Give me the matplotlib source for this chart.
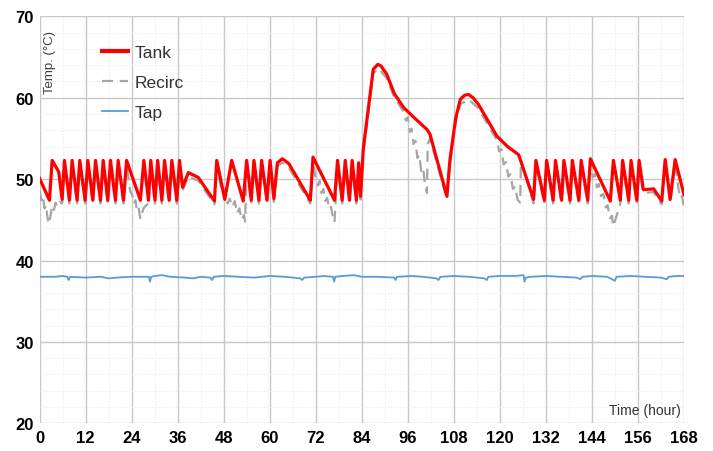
#!/usr/bin/env python3
"""Tank / recirculation / tap temperatures over one week (168 h)."""

import matplotlib

matplotlib.use("Agg")
import matplotlib.pyplot as plt
from matplotlib.ticker import MultipleLocator

plt.rcParams["font.family"] = ["Liberation Sans", "DejaVu Sans"]

# tank temperature, vertices (hour, degC)
tank_t = [
    0.0, 2.6, 3.3, 5.0, 5.9, 6.5, 7.8, 8.5, 9.8, 10.5, 11.9, 12.6, 13.9, 14.6,
    15.9, 16.6, 17.8, 18.5, 19.8, 20.5, 21.9, 22.7, 26.3, 27.2, 28.4, 29.0,
    30.1, 30.8, 31.9, 32.6, 33.8, 34.5, 35.8, 36.5, 37.3, 38.8, 41.4, 45.6,
    46.2, 48.3, 50.1, 53.1, 54.0, 55.2, 55.9, 57.2, 57.9, 59.3, 60.1, 61.1,
    62.0, 63.3, 65.0, 70.6, 71.3, 76.9, 77.7, 78.9, 79.7, 80.8, 81.5, 82.6,
    83.2, 83.7, 84.4, 87.0, 88.2, 89.0, 90.5, 92.5, 94.9, 98.0, 101.0, 101.8,
    106.2, 107.0, 108.5, 109.7, 110.8, 111.8, 113.0, 114.4, 116.5, 119.2,
    122.0, 124.9, 128.8, 129.4, 131.6, 132.2, 133.9, 134.5, 136.1, 136.7,
    138.3, 138.9, 140.6, 141.2, 142.9, 143.6, 148.8, 149.6, 151.4, 152.0,
    153.6, 154.2, 155.7, 156.3, 157.4, 160.1, 162.2, 163.1, 164.4, 165.7, 168.0,
]
tank_T = [
    50.1, 47.4, 52.3, 50.9, 47.5, 52.3, 47.4, 52.3, 47.4, 52.3, 47.4, 52.3, 47.4, 52.3,
    47.4, 52.3, 47.4, 52.3, 47.4, 52.3, 47.4, 52.3, 47.4, 52.3, 47.4, 52.3,
    47.4, 52.3, 47.4, 52.3, 47.4, 52.3, 47.4, 52.3, 49.0, 50.8, 50.2, 47.3,
    52.3, 47.5, 52.3, 47.3, 52.3, 47.4, 52.3, 47.4, 52.3, 47.4, 52.3, 47.6,
    52.0, 52.5, 51.9, 47.4, 52.7, 47.4, 52.3, 47.4, 52.3, 47.4, 52.3, 47.4,
    52.0, 47.9, 53.7, 63.5, 64.1, 63.9, 62.9, 60.5, 58.8, 57.4, 56.1, 55.5,
    47.9, 52.4, 57.5, 59.8, 60.3, 60.4, 60.0, 59.2, 57.5, 55.3,
    54.0, 53.0, 47.5, 52.3, 47.4, 52.3, 47.4, 52.3, 47.4, 52.3,
    47.4, 52.3, 47.4, 52.3, 47.4, 52.5, 47.3, 52.3, 47.4, 52.3,
    47.4, 52.3, 47.4, 52.3, 48.7, 48.8, 47.3, 52.4, 47.5, 52.4, 48.1,
]

# recirculation return temperature (hour, degC)
recirc_t = [
    0.0, 0.5, 0.9, 1.3, 1.7, 2.1, 2.5, 2.9, 3.3, 3.7, 4.2, 4.7, 5.3, 5.9, 6.5,
    7.8, 8.5, 9.8, 10.5, 11.9, 12.6, 13.9, 14.6, 15.9, 16.6, 17.8, 18.5, 19.8,
    20.5, 21.9, 22.7, 23.6, 24.2, 24.6, 25.0, 25.4, 25.8, 26.3, 26.7, 27.2,
    28.4, 29.0, 30.1, 30.8, 31.9, 32.6, 33.8, 34.5, 35.8, 36.5, 37.3, 38.8,
    41.4, 45.6, 46.2, 47.3, 48.0, 48.4, 49.0, 49.6, 50.3, 50.9, 51.5, 52.1,
    52.7, 53.3, 53.6, 54.0, 55.2, 55.9, 57.2, 57.9, 59.3, 60.1, 61.1, 62.0,
    63.3, 65.0, 70.6, 71.3, 72.0, 72.6, 73.0, 73.5, 74.0, 74.5, 75.0, 75.5,
    76.0, 76.5, 76.9, 77.7, 78.9, 79.7, 80.8, 81.5, 82.6, 83.2, 83.7, 84.4,
    87.0, 88.4, 90.5, 92.5, 94.9, 95.5, 96.0, 96.5, 97.0, 97.5, 98.0, 98.5,
    99.0, 99.5, 100.0, 100.5, 101.0, 101.2, 101.8, 106.2, 107.0, 108.5, 109.7,
    111.8, 114.4, 116.5, 119.2, 119.8, 120.4, 121.0, 121.6, 122.2, 122.8,
    123.4, 124.0, 124.6, 125.3, 125.5, 128.8, 129.4, 131.6, 132.2, 133.9,
    134.5, 136.1, 136.7, 138.3, 138.9, 140.6, 141.2, 142.9, 143.6, 144.2,
    144.8, 145.3, 145.8, 146.4, 147.0, 147.6, 148.1, 148.7, 149.2, 149.6,
    151.4, 152.0, 153.6, 154.2, 155.7, 156.3, 157.4, 160.1, 162.2, 163.1,
    164.4, 165.7, 166.5, 167.0, 167.5, 168.0,
]
recirc_T = [
    48.6, 47.4, 47.9, 46.4, 46.8, 45.2, 44.5, 45.6, 46.6, 46.1, 47.1, 46.6, 47.2, 47.0, 51.8,
    47.0, 51.8, 47.0, 51.8, 47.0, 51.8, 47.0, 51.8, 47.0, 51.8, 47.0, 51.8, 47.0,
    51.8, 47.0, 51.8, 48.6, 48.0, 47.0, 47.4, 46.2, 46.6, 45.1, 45.8, 46.5,
    47.0, 51.8, 47.0, 51.8, 47.0, 51.8, 47.0, 51.8, 47.0, 51.8, 48.6, 50.3,
    49.8, 46.9, 51.8, 49.0, 48.2, 48.8, 47.0, 47.6, 46.6, 47.3, 45.8, 46.4,
    45.0, 45.6, 44.8, 51.8, 47.0, 51.8, 47.0, 51.8, 47.0, 51.8, 47.2, 51.6,
    52.0, 51.4, 47.0, 52.2, 50.0, 49.2, 49.8, 48.3, 48.8, 47.3, 47.7, 46.3,
    46.6, 45.2, 44.7, 51.8, 47.0, 51.8, 47.0, 51.8, 47.0, 51.6, 47.5, 53.2,
    63.0, 63.6, 62.4, 60.0, 58.3, 57.2, 57.6, 55.8, 56.2, 54.3, 54.7, 52.6,
    53.0, 51.0, 51.4, 49.3, 48.3, 54.3, 55.0, 47.5, 51.9, 57.0, 59.2,
    59.8, 58.7, 57.0, 54.8, 53.4, 53.7, 51.8, 52.1, 50.3, 50.6,
    48.8, 49.1, 47.5, 47.1, 52.3, 47.0, 51.8, 47.0, 51.8, 47.0,
    51.8, 47.0, 51.8, 47.0, 51.8, 47.0, 51.8, 47.0, 52.0, 50.2,
    50.6, 49.0, 49.4, 47.9, 48.2, 46.5, 46.8, 45.2, 45.5, 44.2,
    47.0, 51.8, 47.0, 51.8, 47.0, 51.8, 48.3, 48.4, 46.9, 51.9,
    47.1, 51.9, 49.0, 47.6, 47.9, 46.4,
]

# tap (mixed) water temperature (hour, degC)
tap_t = [
    0, 4, 6, 7.3, 7.6, 8.0, 12, 16, 18, 20, 24, 28.5, 28.8, 29.1, 30, 32, 34,
    38, 40, 42, 44.5, 45, 45.4, 48, 52, 56, 60, 64, 68, 68.5, 69, 72, 74,
    76.5, 76.8, 77.1, 79, 82, 84, 88, 92.5, 92.8, 93.2, 97, 100, 103.5, 104,
    104.5, 108, 112, 116, 116.6, 117, 120, 124, 126.2, 126.4, 126.8, 128, 132,
    136, 140, 141, 141.5, 144, 148, 150, 150.4, 154, 158, 162, 163.5, 164,
    166, 168,
]
tap_T = [
    38.0, 38.0, 38.1, 38.0, 37.6, 38.0, 37.9, 38.0, 37.8, 37.9, 38.0, 38.0, 37.4, 38.0, 38.1, 38.2, 38.0,
    37.9, 37.8, 38.0, 37.9, 37.6, 38.0, 38.1, 38.0, 37.9, 38.1, 38.0, 37.8, 37.6, 37.9, 38.0, 38.1,
    38.0, 37.4, 38.0, 38.1, 38.2, 38.0, 38.0, 37.9, 37.6, 38.0, 38.1, 38.0, 37.8, 37.6,
    38.0, 38.1, 38.0, 37.8, 37.6, 38.0, 38.1, 38.1, 38.2, 37.4, 37.9, 38.0, 38.1,
    38.0, 37.9, 37.7, 38.0, 38.1, 38.0, 37.5, 38.0, 38.1, 38.0, 37.9, 37.7, 38.0,
    38.1, 38.1,
]

fig = plt.figure(figsize=(7.13, 4.52), dpi=100)
ax = fig.add_axes([0.0554, 0.0613, 0.9039, 0.9004])

ax.plot(recirc_t, recirc_T, color="#a6a6a6", linewidth=1.6, dashes=(5, 3), label="Recirc", zorder=3)
ax.plot(tank_t, tank_T, color="#ff0000", linewidth=2.3, label="Tank", zorder=4)
ax.plot(tap_t, tap_T, color="#5b9bd5", linewidth=1.3, label="Tap", zorder=3)

ax.set_xlim(0, 168)
ax.set_ylim(20, 70)
ax.xaxis.set_major_locator(MultipleLocator(12))
ax.xaxis.set_minor_locator(MultipleLocator(6))
ax.yaxis.set_major_locator(MultipleLocator(10))
ax.yaxis.set_minor_locator(MultipleLocator(2))
ax.grid(True, which="major", color="#c8c8c8", linewidth=1.0, zorder=0)
ax.grid(True, which="minor", color="#ebebeb", linewidth=0.8, linestyle=":", zorder=0)
ax.set_axisbelow(True)
for s in ax.spines.values():
    s.set_visible(False)
ax.tick_params(which="both", length=0)
ax.tick_params(axis="x", pad=5)
ax.tick_params(axis="y", pad=4)
for lab in ax.get_xticklabels() + ax.get_yticklabels():
    lab.set_fontweight("bold")
    lab.set_fontsize(12)

ax.text(2.8, 64.4, "Temp. (°C)", rotation=90, ha="center", va="center",
        fontsize=9.5, color="#404040")
ax.text(167.2, 21.6, "Time (hour)", ha="right", va="center", fontsize=10,
        color="#333333")

handles, labels = ax.get_legend_handles_labels()
order = [1, 0, 2]
leg = ax.legend([handles[i] for i in order], [labels[i] for i in order],
                loc="upper left", bbox_to_anchor=(0.0965, 0.93), frameon=False,
                fontsize=12.5, handlelength=1.5, handletextpad=0.4,
                labelspacing=0.85, borderpad=0, borderaxespad=0)
for txt in leg.get_texts():
    txt.set_color("#333333")
leg.get_lines()[0].set_linewidth(3)

fig.savefig("out.png", dpi=100)
